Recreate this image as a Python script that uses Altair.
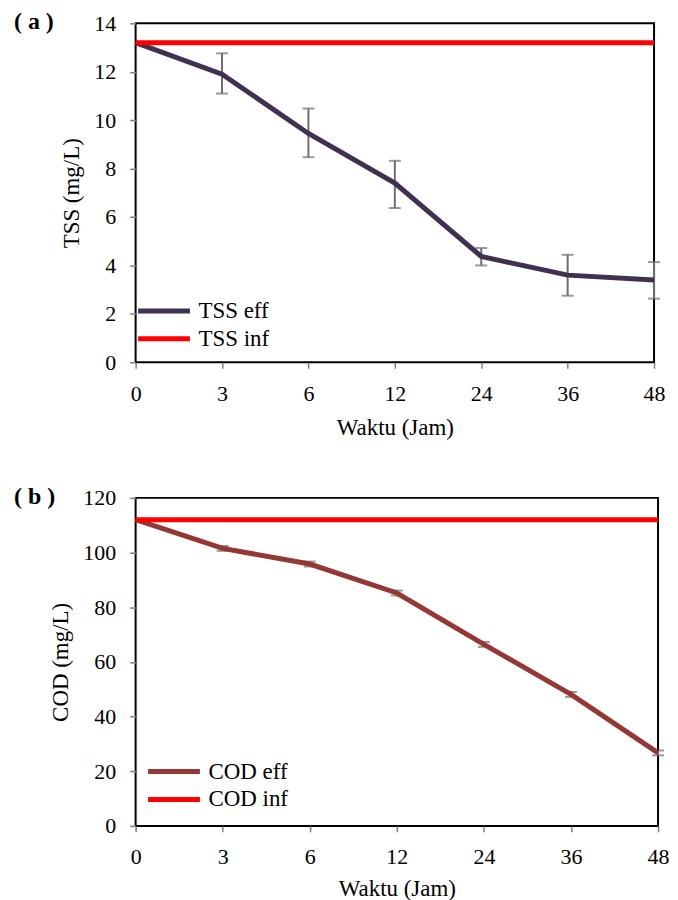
import altair as alt
import pandas as pd

# ---------------- data ----------------
times = ["0", "3", "6", "12", "24", "36", "48"]

tss_eff = [13.2, 11.9, 9.45, 7.4, 4.37, 3.6, 3.4]
tss_lo = [13.2, 11.1, 8.47, 6.37, 4.0, 2.75, 2.63]
tss_hi = [13.2, 12.76, 10.48, 8.32, 4.72, 4.44, 4.14]
tss_inf = 13.2

cod_eff = [112.0, 101.5, 95.8, 85.2, 66.4, 48.1, 26.7]
cod_lo = [112.0, 100.6, 94.9, 84.3, 65.5, 47.2, 25.8]
cod_hi = [112.0, 102.4, 96.7, 86.1, 67.3, 49.0, 27.6]
cod_inf = 112.0

FONT = "Liberation Serif"
RED = "#FF0000"
ERR = "#6E6E6E"


def panel(tag, param, eff, lo, hi, inf, eff_color, ymax, ystep, width, height,
          legend_x, legend_y, x_title_pad):
    eff_name = f"{param} eff"
    inf_name = f"{param} inf"
    df = pd.DataFrame({"t": times, "value": eff, "lo": lo, "hi": hi, "series": eff_name})
    inf_df = pd.DataFrame({"value": [inf], "series": [inf_name]})

    xenc = alt.X(
        "t:O", sort=times, title="Waktu (Jam)",
        scale=alt.Scale(type="point", padding=0),
        axis=alt.Axis(labelAngle=0, labelPadding=15, titlePadding=x_title_pad),
    )
    yscale = alt.Scale(domain=[0, ymax], nice=False)
    yaxis = alt.Axis(values=list(range(0, ymax + 1, ystep)), labelPadding=14, titlePadding=10)
    color = alt.Color(
        "series:N",
        scale=alt.Scale(domain=[eff_name, inf_name], range=[eff_color, RED]),
        legend=alt.Legend(
            title=None, orient="none", legendX=legend_x, legendY=legend_y,
            symbolType="M-1,0H3", symbolSize=676, symbolStrokeWidth=5,
            labelFontSize=23, labelFont=FONT, labelColor="black",
            labelOffset=32, rowPadding=0, padding=0,
        ),
    )

    err = alt.Chart(df).transform_filter("datum.lo != datum.hi")
    err_rule = err.mark_rule(color=ERR, strokeWidth=2).encode(
        x=xenc, y=alt.Y("lo:Q", scale=yscale, axis=yaxis, title=f"{param} (mg/L)"), y2="hi:Q"
    )
    cap_lo = err.mark_tick(color=ERR, thickness=2, size=12, orient="horizontal").encode(
        x=xenc, y=alt.Y("lo:Q", scale=yscale)
    )
    cap_hi = err.mark_tick(color=ERR, thickness=2, size=12, orient="horizontal").encode(
        x=xenc, y=alt.Y("hi:Q", scale=yscale)
    )
    line = alt.Chart(df).mark_line(strokeWidth=5).encode(
        x=xenc, y=alt.Y("value:Q", scale=yscale, axis=yaxis, title=f"{param} (mg/L)"), color=color
    )
    inf_rule = alt.Chart(inf_df).mark_rule(strokeWidth=5).encode(
        y=alt.Y("value:Q", scale=yscale), color=color
    )
    label = alt.Chart(pd.DataFrame({"txt": [tag]})).mark_text(
        align="left", baseline="middle", font=FONT, fontSize=24, fontWeight="bold", color="black"
    ).encode(x=alt.value(-122), y=alt.value(-1), text="txt:N")

    return alt.layer(err_rule, cap_lo, cap_hi, line, inf_rule, label).properties(
        width=width, height=height
    )


top = panel("( a )", "TSS", tss_eff, tss_lo, tss_hi, tss_inf, "#403152", 14, 2, 520, 340, 0, 273, 12)
bottom = panel("( b )", "COD", cod_eff, cod_lo, cod_hi, cod_inf, "#953735", 120, 20, 524, 329, 10, 259, 10)

chart = alt.vconcat(top, bottom, spacing=44).resolve_scale(color="independent").properties(
    background="white",
    padding={"left": 5, "top": 0, "right": 0, "bottom": 2},
).configure_view(
    stroke="black", strokeWidth=2
).configure_axis(
    labelFont=FONT, titleFont=FONT, labelFontSize=22, titleFontSize=23,
    labelColor="black", titleColor="black", titleFontWeight="normal",
    domain=False, grid=False, tickColor="#808080", tickSize=6, tickWidth=1.5,
)

chart.save("out.html", embed_options={"renderer": "svg", "actions": False})
